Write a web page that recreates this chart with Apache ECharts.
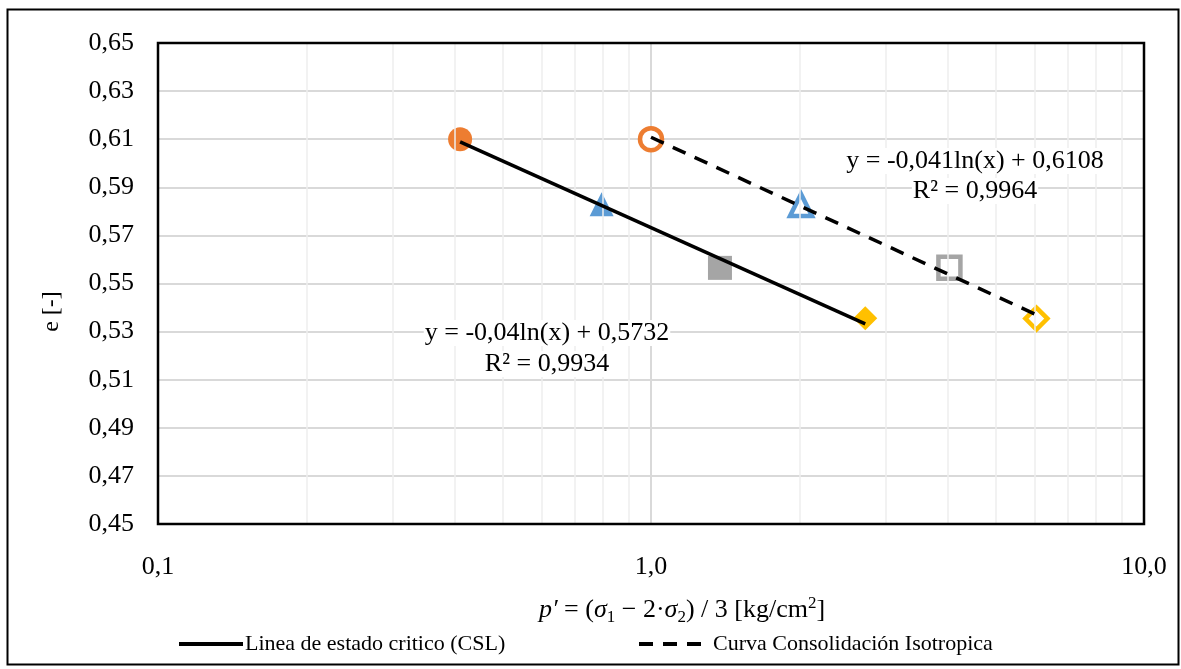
<!DOCTYPE html>
<html>
<head>
<meta charset="utf-8">
<script src="https://cdn.jsdelivr.net/npm/echarts@6/dist/echarts.min.js"></script>
<style>
html,body{margin:0;padding:0;background:#fff;}
#chart{width:1181px;height:669px;}
</style>
</head>
<body>
<div id="chart"></div>
<script>
// ---- data ----
const pointNames = ['A', 'B', 'C', 'D'];
const cslX = [0.41, 0.794, 1.38, 2.72];
const cslY = [0.610, 0.583, 0.5565, 0.5356];
const iclX = [1.0, 2.015, 4.03, 6.05];
const iclY = [0.610, 0.5826, 0.5565, 0.5354];
const cslTrendX = [0.41, 2.72];
const cslTrendY = [0.6089, 0.5332];
const iclTrendX = [1.0, 6.05];
const iclTrendY = [0.6108, 0.5370];
const minorGridX = [0.2, 0.3, 0.4, 0.5, 0.6, 0.7, 0.8, 0.9, 2, 3, 4, 5, 6, 7, 8, 9];
const legendNames = ['Linea de estado critico (CSL)', 'Curva Consolidación Isotropica'];
const eqCSL = ['y = -0,04ln(x) + 0,5732', 'R² = 0,9934'];
const eqICL = ['y = -0,041ln(x) + 0,6108', 'R² = 0,9964'];

const colors = ['#ED7D31', '#5B9BD5', '#A5A5A5', '#FFC000'];
const symbols = ['circle', 'triangle', 'rect', 'diamond'];
const FONT = '"Liberation Serif", "Times New Roman", serif';

const series = [];
// minor vertical gridlines
series.push({
  type: 'line', data: [], silent: true, z: 1,
  markLine: {
    silent: true, symbol: 'none', label: {show: false},
    lineStyle: {color: '#eeeeee', width: 1.5, type: 'solid'},
    data: minorGridX.map(v => ({xAxis: v}))
  }
});
// filled markers (CSL)
for (let i = 0; i < cslX.length; i++) {
  series.push({
    type: 'scatter', name: 'csl' + pointNames[i], z: 3,
    symbol: symbols[i], symbolSize: 24,
    itemStyle: {color: colors[i], opacity: 1},
    data: [[cslX[i], cslY[i]]]
  });
}
// hollow markers (ICL)
for (let i = 0; i < iclX.length; i++) {
  series.push({
    type: 'scatter', name: 'icl' + pointNames[i], z: 3,
    symbol: symbols[i], symbolSize: 22,
    itemStyle: {color: '#ffffff', borderColor: colors[i], borderWidth: 4.5, opacity: 1},
    data: [[iclX[i], iclY[i]]]
  });
}
series.push({
  type: 'line', name: legendNames[0], z: 5, showSymbol: false, symbol: 'none',
  lineStyle: {color: '#000', width: 3.5, type: 'solid'},
  itemStyle: {color: '#000'},
  data: cslTrendX.map((x, i) => [x, cslTrendY[i]])
});
series.push({
  type: 'line', name: legendNames[1], z: 5, showSymbol: false, symbol: 'none',
  lineStyle: {color: '#000', width: 3.5, type: [14, 10]},
  itemStyle: {color: '#000'},
  data: iclTrendX.map((x, i) => [x, iclTrendY[i]])
});

const legendCommon = {
  orient: 'horizontal', itemHeight: 14, itemGap: 4, selectedMode: false,
  itemStyle: {opacity: 0, borderWidth: 0},
  lineStyle: {width: 4},
  textStyle: {fontFamily: FONT, fontSize: 22, color: '#000', padding: [0, 0, 0, -3]}
};

function eqText(x, y, txt) {
  return {type: 'text', x: x, y: y, z: 50, style: {text: txt, font: '26px ' + FONT, fill: '#000', align: 'center', verticalAlign: 'middle', backgroundColor: '#fff', padding: [0, 1]}};
}

const chart = echarts.init(document.getElementById('chart'));
chart.setOption({
  animation: false,
  backgroundColor: '#fff',
  textStyle: {fontFamily: FONT, color: '#000'},
  grid: {left: 158, right: 37, top: 43, bottom: 145, show: false},
  xAxis: {
    type: 'log', logBase: 10, min: 0.1, max: 10,
    axisLine: {show: false}, axisTick: {show: false},
    splitLine: {show: true, lineStyle: {color: '#d9d9d9', width: 2}},
    minorTick: {show: false}, minorSplitLine: {show: false},
    axisLabel: {
      fontFamily: FONT, fontSize: 26, color: '#000', margin: 30,
      formatter: v => v.toFixed(1).replace('.', ',')
    },
    name: '{i|p′} = ({i|σ}{s|1} − 2·{i|σ}{s|2}) / 3 [kg/cm{p|2}]',
    nameLocation: 'middle', nameGap: 70,
    nameTextStyle: {
      fontFamily: FONT, fontSize: 26, color: '#000', padding: [0, 0, 0, 62],
      rich: {
        i: {fontFamily: FONT, fontSize: 26, fontStyle: 'italic', color: '#000'},
        s: {fontFamily: FONT, fontSize: 17, color: '#000', padding: [15, 0, 0, 0]},
        p: {fontFamily: FONT, fontSize: 17, color: '#000', padding: [0, 0, 13, 0]}
      }
    }
  },
  yAxis: {
    type: 'value', min: 0.45, max: 0.65, interval: 0.02,
    axisLine: {show: false}, axisTick: {show: false},
    splitLine: {show: true, lineStyle: {color: '#d9d9d9', width: 2}},
    axisLabel: {
      fontFamily: FONT, fontSize: 26, color: '#000', margin: 24,
      formatter: v => v.toFixed(2).replace('.', ',')
    },
    name: 'e [-]', nameLocation: 'middle', nameRotate: 90, nameGap: 94,
    nameTextStyle: {fontFamily: FONT, fontSize: 24, color: '#000', padding: [0, 56, 0, 0]}
  },
  legend: [
    Object.assign({data: [legendNames[0]], left: 172, top: 628, itemWidth: 64}, legendCommon),
    Object.assign({data: [legendNames[1]], left: 632, top: 628, itemWidth: 72}, legendCommon)
  ],
  graphic: [
    {type: 'rect', left: 5, top: 7, z: 100, shape: {width: 1171, height: 655}, style: {fill: 'none', stroke: '#000', lineWidth: 2}, silent: true},
    {type: 'rect', x: 158, y: 43, z: 100, shape: {width: 986, height: 481}, style: {fill: 'none', stroke: '#000', lineWidth: 2.5}, silent: true},
    eqText(547, 333, eqCSL[0]),
    eqText(547, 364, eqCSL[1]),
    eqText(975, 161, eqICL[0]),
    eqText(975, 191, eqICL[1])
  ],
  series: series
});
</script>
</body>
</html>
